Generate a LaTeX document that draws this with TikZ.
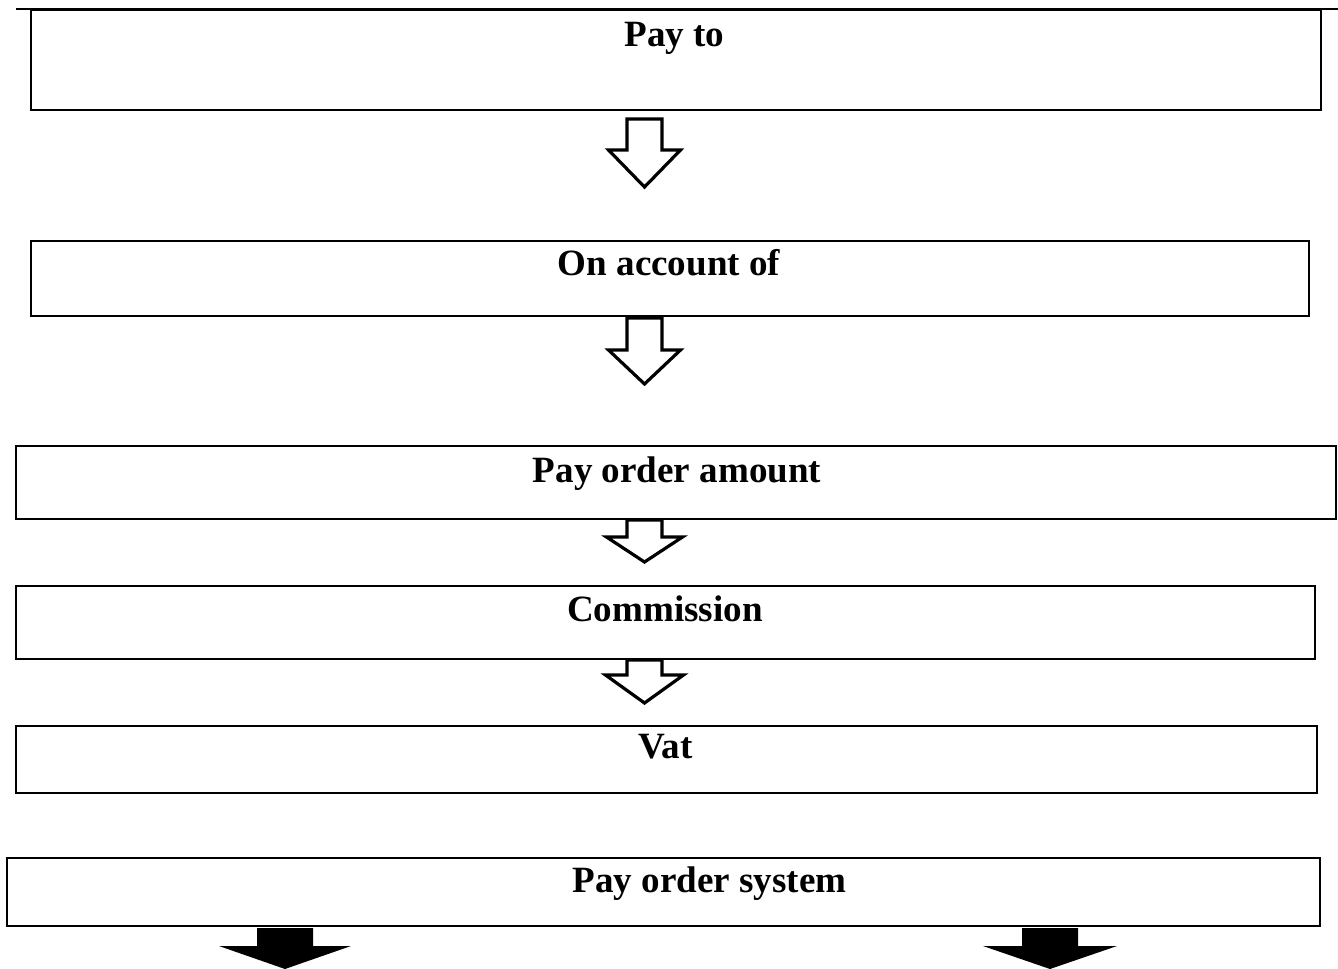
\documentclass[tikz,border=0pt]{standalone}
\usepackage{fontspec}
\setmainfont{Liberation Serif}
\usetikzlibrary{fit}

% block arrow: style, top point, half shaft width, half head width, head start, tip
\newcommand\blockarrow[6]{%
  \draw[#1] (#2) ++(-#3,0) -- ++(0,#5) -- ++({#3-#4},0)
    -- ++({#4},{#6-#5}) -- ++({#4},{#5-#6}) -- ++({#3-#4},0)
    -- ++(0,{-#5}) -- cycle;}

\begin{document}
\begin{tikzpicture}[x=0.75pt,y=-0.75pt,
  box/.style={draw=black,line width=2.1pt,inner sep=0pt,fill=none},
  lbl/.style={anchor=base,inner sep=0pt,font=\fontsize{27.8}{33}\selectfont\bfseries},
  hollow/.style={draw=black,fill=white,line width=2.4pt,line join=miter},
  solid/.style={draw=none,fill=black}]
\useasboundingbox[fill=white] (0,0) rectangle (1338,968);

% rule along the top edge
\draw[line width=2.1pt] (16,9) -- (1338,9);

% boxes
\node[box,fit={(31,10) (1321,110)}] (b1) {};
\node[box,fit={(31,241) (1309,316)}] (b2) {};
\node[box,fit={(16,446) (1336,519)}] (b3) {};
\node[box,fit={(16,586) (1315,659)}] (b4) {};
\node[box,fit={(16,726) (1317,793)}] (b5) {};
\node[box,fit={(7,858) (1320,926)}] (b6) {};

% labels
\node[lbl] (t1) at (674.5,46) {Pay to};
\node[lbl] (t2) at (669,275) {On account of};
\node[lbl] (t3) at (677,482) {Pay order amount};
\node[lbl] (t4) at (665,621) {Commission};
\node[lbl] (t5) at (665.5,758) {Vat};
\node[lbl] (t6) at (709.5,892) {Pay order system};

% arrow start points
\coordinate (a1) at (644.5,119);
\coordinate (a2) at (644.5,318);
\coordinate (a3) at (644.5,520);
\coordinate (a4) at (644.5,660);
\coordinate (a5) at (285,928);
\coordinate (a6) at (1050,928);

\blockarrow{hollow}{a1}{17.5}{36}{31}{68}
\blockarrow{hollow}{a2}{17.5}{36}{32}{66}
\blockarrow{hollow}{a3}{17.5}{38}{17}{42}
\blockarrow{hollow}{a4}{17.5}{39}{15}{43}
\blockarrow{solid}{a5}{28}{66}{18}{41}
\blockarrow{solid}{a6}{28}{67}{18}{41}
\end{tikzpicture}
\end{document}
